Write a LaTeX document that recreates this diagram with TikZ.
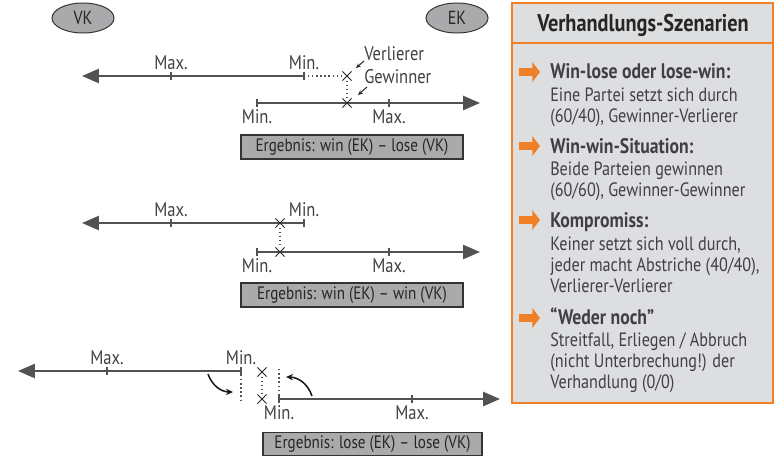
\documentclass[tikz,border=0pt]{standalone}
\usepackage{fontspec}
\setmainfont[FakeStretch=0.84]{PT Sans}
\usetikzlibrary{arrows.meta, shapes.misc, shapes.geometric}
\definecolor{axisgray}{RGB}{82,82,84}
\definecolor{textgray}{RGB}{64,64,66}
\definecolor{boxgray}{RGB}{170,170,172}
\definecolor{panelgray}{RGB}{221,222,224}
\definecolor{barorange}{RGB}{240,128,40}

\begin{document}
\begin{tikzpicture}[
    x=0.025cm, y=-0.025cm,
    font=\fontsize{14}{16}\selectfont,
    axis/.style={axisgray, line width=1.5pt},
    axisarrow/.style={axis, -{Triangle[length=12pt, width=10pt]}},
    tick/.style={fill=axisgray, inner sep=0pt, minimum width=1.4pt, minimum height=5.8pt},
    lbl/.style={text=textgray, inner sep=1.5pt, font=\fontsize{14}{16}\selectfont},
    xmark/.style={cross out, draw=black!85, line width=0.7pt, inner sep=0pt, minimum size=5.8pt},
    guide/.style={axisgray, dotted, line width=0.9pt},
    hint/.style={black!85, line width=0.7pt, -{Stealth[length=3.5pt, width=3pt]}},
    turn/.style={black!90, line width=1.1pt, -{Stealth[length=5pt, width=4.5pt]}, bend right=35},
    result/.style={draw=black!80, fill=boxgray, line width=0.8pt, text=black!85,
        minimum width=5.55cm, minimum height=0.6cm, inner sep=0pt, font=\fontsize{12.8}{14}\selectfont},
    party/.style={ellipse, draw=black!80, fill=boxgray, line width=0.7pt, text=black!85,
        minimum width=1.55cm, minimum height=0.75cm, inner sep=0pt, font=\fontsize{13.5}{15}\selectfont},
    itemarrow/.style={barorange, line width=5.6pt, -{Triangle[length=5.5pt, width=14pt]}},
    title/.style={anchor=base west, inner sep=0pt, text=textgray, font=\fontsize{15}{17}\selectfont\bfseries},
    body/.style={anchor=base west, inner sep=0pt, text=textgray, font=\fontsize{13.7}{15}\selectfont}
]
    \useasboundingbox (0,0) rectangle (776,456);

    % ==========================================
    % PARTIES
    % ==========================================
    \node[party] (vk) at (83,18) {VK};
    \node[party] (ek) at (457,18) {EK};

    % ==========================================
    % SCENARIO 1: win (EK) - lose (VK)
    % ==========================================
    \coordinate (vk1end) at (82,76);
    \coordinate (ek1end) at (480,103);
    \node[tick, label={[lbl]above:Max.}] (vk1max) at (171,76) {};
    \node[tick, label={[lbl]above:Min.}] (vk1min) at (304,76) {};
    \node[tick, label={[lbl]below:Min.}] (ek1min) at (257,103) {};
    \node[tick, label={[lbl]below:Max.}] (ek1max) at (389,103) {};

    \draw[axisarrow] (vk1min.center) -- (vk1end);
    \draw[axisarrow] (ek1min.center) -- (ek1end);

    \node[xmark] (x1a) at (347,76) {};
    \node[xmark] (x1b) at (347,103) {};
    \draw[guide] (vk1min.center) -- (x1a);
    \draw[guide] (x1a) -- (x1b);

    \node[lbl, anchor=west, inner sep=0pt] (loser) at (364,54) {Verlierer};
    \node[lbl, anchor=west, inner sep=0pt] (winner) at (364,77) {Gewinner};
    \coordinate (loser_tail) at (364,61);
    \coordinate (loser_tip) at (356,68);
    \coordinate (winner_tail) at (367,87);
    \coordinate (winner_tip) at (358,95);
    \draw[hint] (loser_tail) -- (loser_tip);
    \draw[hint] (winner_tail) -- (winner_tip);

    \node[result] (res1) at (352,147) {Ergebnis: win (EK) -- lose (VK)};

    % ==========================================
    % SCENARIO 2: win (EK) - win (VK)
    % ==========================================
    \coordinate (vk2end) at (82,223);
    \coordinate (ek2end) at (480,252);
    \node[tick, label={[lbl]above:Max.}] (vk2max) at (171,223) {};
    \node[tick, label={[lbl]above:Min.}] (vk2min) at (304,223) {};
    \node[tick, label={[lbl]below:Min.}] (ek2min) at (257,252) {};
    \node[tick, label={[lbl]below:Max.}] (ek2max) at (389,252) {};

    \draw[axisarrow] (vk2min.center) -- (vk2end);
    \draw[axisarrow] (ek2min.center) -- (ek2end);

    \node[xmark] (x2a) at (280,223) {};
    \node[xmark] (x2b) at (280,252) {};
    \draw[guide] (x2a) -- (x2b);

    \node[result] (res2) at (352,295) {Ergebnis: win (EK) -- win (VK)};

    % ==========================================
    % SCENARIO 3: lose (EK) - lose (VK)
    % ==========================================
    \coordinate (vk3end) at (18,371);
    \coordinate (ek3end) at (500,399);
    \coordinate (vk3drop) at (241,400);
    \coordinate (ek3rise) at (279,369);
    \node[tick, label={[lbl]above:Max.}] (vk3max) at (107,371) {};
    \node[tick, label={[lbl]above:Min.}] (vk3min) at (241,371) {};
    \node[tick, label={[lbl]below:Min.}] (ek3min) at (279,399) {};
    \node[tick, label={[lbl]below:Max.}] (ek3max) at (412,399) {};

    \draw[axisarrow] (vk3min.center) -- (vk3end);
    \draw[axisarrow] (ek3min.center) -- (ek3end);

    \draw[guide] (vk3min.center) -- (vk3drop);
    \draw[guide] (ek3min.center) -- (ek3rise);

    \node[xmark] (x3a) at (262,372) {};
    \node[xmark] (x3b) at (262,399) {};
    \draw[guide] (x3a) -- (x3b);

    \coordinate (turn_l_from) at (208,374);
    \coordinate (turn_l_to) at (233,392);
    \coordinate (turn_r_from) at (312,396);
    \coordinate (turn_r_to) at (286,377);
    \draw[turn] (turn_l_from) to (turn_l_to);
    \draw[turn] (turn_r_from) to (turn_r_to);

    \node[result, minimum width=5.475cm, minimum height=0.58cm] (res3) at (372.5,444) {Ergebnis: lose (EK) -- lose (VK)};

    % ==========================================
    % PANEL: Verhandlungs-Szenarien
    % ==========================================
    \coordinate (panel_nw) at (512,3);
    \coordinate (panel_se) at (773,403);
    \coordinate (hdr_w) at (512,43);
    \coordinate (hdr_e) at (773,43);
    \draw[barorange, fill=panelgray, line width=1.5pt] (panel_nw) rectangle (panel_se);
    \draw[barorange, line width=1.3pt] (hdr_w) -- (hdr_e);
    \node[text=black!85, font=\fontsize{17.2}{19}\selectfont\bfseries, anchor=base] (hdr) at (643,31) {Verhandlungs-Szenarien};

    % item arrows
    \foreach \i/\y in {1/72, 2/146, 3/220, 4/318} {
        \coordinate (b\i) at (519,\y);
        \coordinate (e\i) at (540,\y);
        \draw[itemarrow] (b\i) -- (e\i);
    }

    % item 1
    \node[title] (t1) at (550,78) {Win-lose oder lose-win:};
    \node[body] (t1a) at (550,101) {Eine Partei setzt sich durch};
    \node[body] (t1b) at (550,122) {(60/40), Gewinner-Verlierer};

    % item 2
    \node[title] (t2) at (550,153) {Win-win-Situation:};
    \node[body] (t2a) at (550,175) {Beide Parteien gewinnen};
    \node[body] (t2b) at (550,196) {(60/60), Gewinner-Gewinner};

    % item 3
    \node[title] (t3) at (550,227) {Kompromiss:};
    \node[body] (t3a) at (550,250) {Keiner setzt sich voll durch,};
    \node[body] (t3b) at (550,271) {jeder macht Abstriche (40/40),};
    \node[body] (t3c) at (550,292) {Verlierer-Verlierer};

    % item 4
    \node[title] (t4) at (550,324) {“Weder noch”};
    \node[body] (t4a) at (550,346) {Streitfall, Erliegen / Abbruch};
    \node[body] (t4b) at (550,367) {(nicht Unterbrechung!) der};
    \node[body] (t4c) at (550,388) {Verhandlung (0/0)};

\end{tikzpicture}
\end{document}
